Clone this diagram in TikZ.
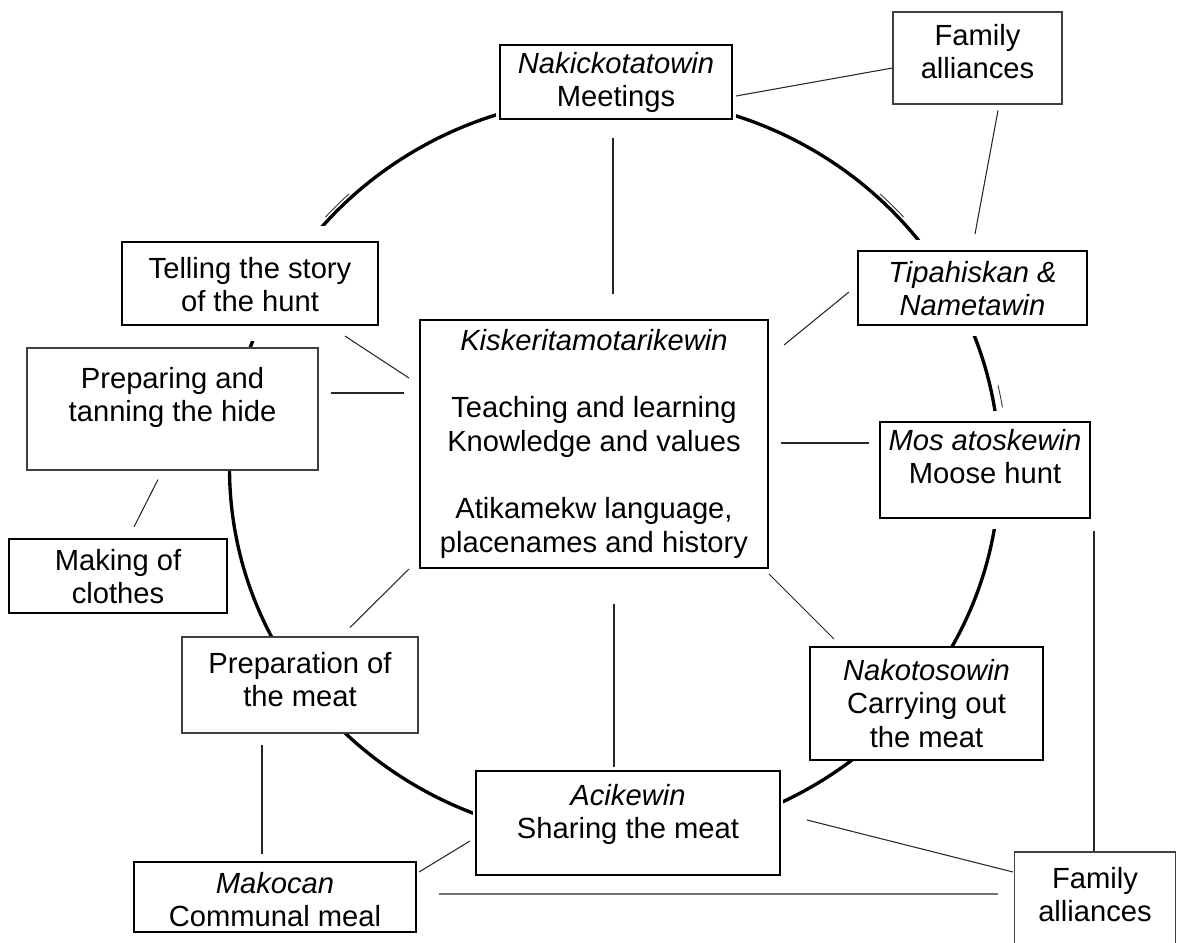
\documentclass[tikz,border=0pt]{standalone}
\usepackage{fontspec}
\setmainfont{Liberation Sans}
\usetikzlibrary{calc}
\newlength\pxu
\setlength\pxu{0.02cm}
% box content: width, height, first-baseline drop, text (top aligned)
\newcommand\boxtext[4]{\parbox[c][#2\pxu][t]{#1\pxu}{\centering\rule{0pt}{#3\pxu}#4}}
\tikzset{
  bx/.style={rectangle, inner sep=0pt, fill=white, font=\fontsize{16.6pt}{19.2pt}\selectfont},
  thickbox/.style={bx, draw=black, line width=1.2pt},
  thinbox/.style={bx, draw=black!75, line width=0.6pt},
  halo/.style={preaction={draw=white, line width=#1}},
  link/.style={draw=black!85, line width=0.6pt},
  greylink/.style={draw=black!55, line width=0.9pt},
  tick/.style={draw=black!80, line width=0.5pt},
  ring/.style={line width=1.9pt}
}
\begin{document}
\begin{tikzpicture}[x=0.02cm, y=-0.02cm]
\useasboundingbox (0,0) rectangle (1181,943);

% the cycle
\draw[ring] (614.5,468) ellipse [x radius=385, y radius=371];

% boxes
\node[thinbox] (famT) at (977.5,58) {\boxtext{169}{92}{33}{Family\\alliances}};
\node[thickbox, halo=4pt] (meet) at (616,82) {\boxtext{232}{74}{28}{\textit{Nakickotatowin}\\Meetings}};
\node[thickbox, halo=18pt] (tell) at (250,283.5) {\boxtext{256}{83}{36}{Telling the story\\of the hunt}};
\node[thickbox, halo=12pt] (tip) at (972.5,288) {\boxtext{229}{74}{31}{\textit{Tipahiskan \&}\\\textit{Nametawin}}};
\node[thickbox, halo=3pt] (kisk) at (594,444) {\boxtext{348}{248}{30}{\textit{Kiskeritamotarikewin}\\[19.2pt]Teaching and learning\\Knowledge and values\\[19.2pt]Atikamekw language,\\placenames and history}};
\node[thinbox] (hide) at (172.5,409) {\boxtext{291}{122}{40}{Preparing and\\tanning the hide}};
\node[thickbox, halo=12.5pt] (mos) at (985,470) {\boxtext{210}{96}{28}{\textit{Mos atoskewin}\\Moose hunt}};
\node[thickbox] (make) at (118,576) {\boxtext{218}{74}{31}{Making of\\clothes}};
\node[thinbox] (meat) at (300,685) {\boxtext{236}{96}{36}{Preparation of\\the meat}};
\node[thickbox] (nako) at (926.5,703.5) {\boxtext{233}{113}{33}{\textit{Nakotosowin}\\Carrying out\\the meat}};
\node[thickbox, halo=3pt] (aci) at (628,823) {\boxtext{304}{104}{34}{\textit{Acikewin}\\Sharing the meat}};
\node[thickbox] (mako) at (275,897) {\boxtext{282}{70}{31}{\textit{Makocan}\\Communal meal}};
\node[thinbox] (famB) at (1095,906) {\boxtext{161}{108}{36}{Family\\alliances}};

% connectors
\draw[link] ($(meet.east)+(3,14)$) -- ($(famT.west)+(0,10)$);
\draw[link] ($(famT.south)+(20.5,6)$) -- ($(tip.north)+(2.5,-16)$);
\draw[link] ($(meet.south)+(-3,18)$) -- ($(kisk.north)+(19,-25)$);
\draw[link] ($(tell.south)+(95,10)$) -- ($(kisk.west)+(-10,-66)$);
\draw[link] ($(hide.east)+(12,-16)$) -- ($(kisk.west)+(-15,-51)$);
\draw[link] ($(hide.south)+(-14.5,9)$) -- ($(make.north)+(16,-11)$);
\draw[link] ($(kisk.east)+(15,-99)$) -- ($(tip.west)+(-8,4)$);
\draw[link] ($(kisk.east)+(12,-1)$) -- ($(mos.west)+(-10,-27)$);
\draw[link] ($(kisk.south east)+(0,5)$) -- ($(nako.north west)+(25,-7)$);
\draw[link] ($(kisk.south west)+(-10,0)$) -- ($(meat.north)+(50,-9)$);
\draw[link] ($(kisk.south)+(20,35)$) -- ($(aci.north)+(-14,-3)$);
\draw[link] ($(meat.south)+(-38,11)$) -- ($(mako.north)+(-13,-7)$);
\draw[link] ($(aci.west)+(-5,18)$) -- ($(mako.east)+(2,-25)$);
\draw[link] ($(aci.east)+(26,-3)$) -- ($(famB.west)+(-1,-34)$);
\draw[greylink] ($(mako.east)+(22,-3)$) -- ($(famB.west)+(-16,-12)$);
\draw[link] ($(mos.south)+(109,12)$) -- ($(famB.north)+(-1,0)$);

% direction marks beside the cycle
\draw[tick] ($(614.5,468)+({389*cos(-138)},{375*sin(-138)})$) arc[start angle=-138, end angle=-133, x radius=389, y radius=375];
\draw[tick] ($(614.5,468)+({389*cos(-47)},{375*sin(-47)})$) arc[start angle=-47, end angle=-42, x radius=389, y radius=375];
\draw[tick] ($(614.5,468)+({393*cos(-12.6)},{379*sin(-12.6)})$) arc[start angle=-12.6, end angle=-9.2, x radius=393, y radius=379];
\end{tikzpicture}
\end{document}
